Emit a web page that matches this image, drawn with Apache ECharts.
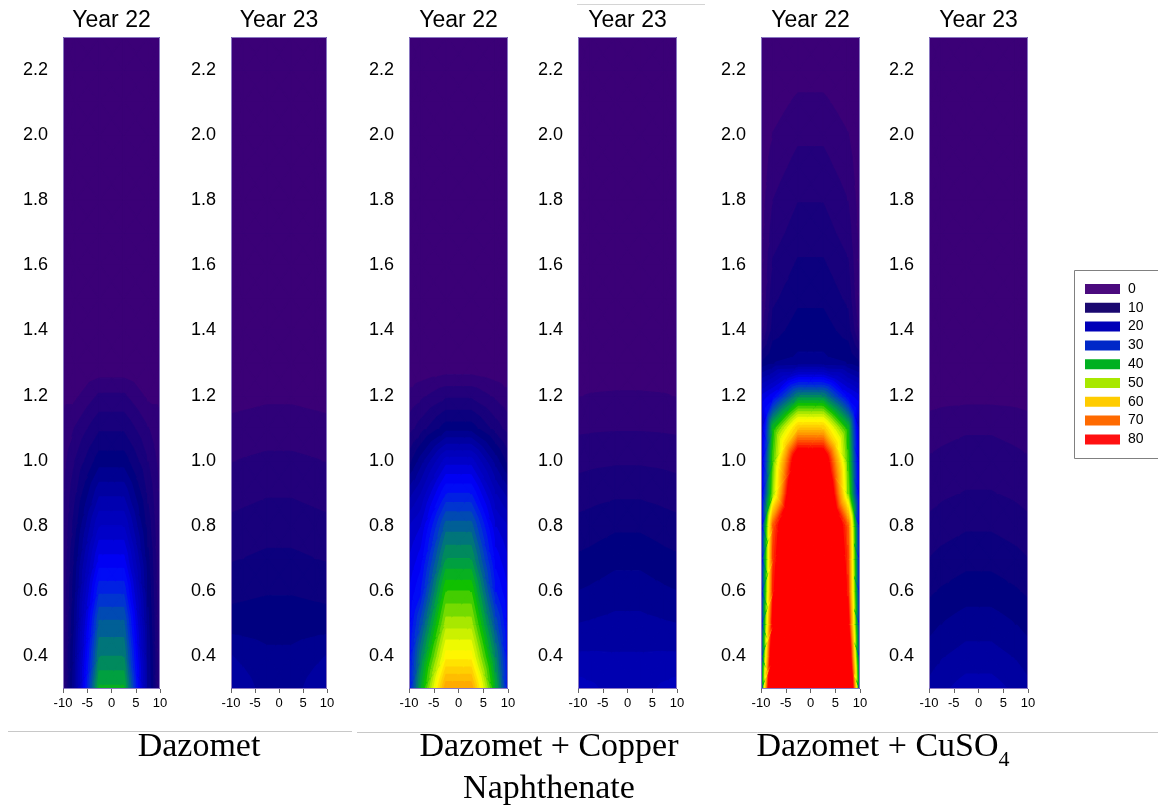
<!DOCTYPE html>
<html>
<head>
<meta charset="utf-8">
<script src="https://cdn.jsdelivr.net/npm/echarts@6/dist/echarts.min.js"></script>
<style>
  html, body { margin: 0; padding: 0; background: #ffffff; }
  #chart { width: 1158px; height: 808px; }
</style>
</head>
<body>
<div id="chart"></div>
<script>
// Sampling grid: horizontal distance from the pole centre (cm) and height (m)
const xNodes = [-10, -7.5, -2.5, 2.5, 7.5, 10];
const heightNodes = [0.3, 0.4, 0.5, 0.6, 0.7, 0.8, 0.9, 1.0, 1.1, 1.2, 1.3,
                     1.4, 1.5, 1.6, 1.7, 1.8, 1.9, 2.0, 2.1, 2.2, 2.3];

// Tick labels
const xTicks = [-10, -5, 0, 5, 10];
const yTicks = [0.4, 0.6, 0.8, 1.0, 1.2, 1.4, 1.6, 1.8, 2.0, 2.2];

// Residual level, one row per height (bottom to top), one value per x node
const dazometY22 = [
  [3.5, 14, 42.5, 42.5, 14, 3.5],
  [3.5, 13.5, 38, 38, 13.5, 3.5],
  [3.5, 12.5, 34.5, 34.5, 12.5, 3.5],
  [3.5, 11.5, 29.5, 29.5, 11.5, 3.5],
  [3.5, 10.5, 24.5, 24.5, 10.5, 3.5],
  [3.5, 9, 20, 20, 9, 3.5],
  [3.5, 7.5, 15.5, 15.5, 7.5, 3.5],
  [3, 6, 11, 11, 6, 3],
  [2.5, 4.1, 7.6, 7.6, 4.1, 2.5],
  [1.5, 1.5, 4.3, 4.3, 1.5, 1.5],
  [0, 0, 0, 0, 0, 0], [0, 0, 0, 0, 0, 0], [0, 0, 0, 0, 0, 0], [0, 0, 0, 0, 0, 0],
  [0, 0, 0, 0, 0, 0], [0, 0, 0, 0, 0, 0], [0, 0, 0, 0, 0, 0], [0, 0, 0, 0, 0, 0],
  [0, 0, 0, 0, 0, 0], [0, 0, 0, 0, 0, 0], [0, 0, 0, 0, 0, 0]
];
const dazometY23 = [
  [15.5, 15, 13, 13, 15, 15.5],
  [14.1, 13.5, 12.4, 12.4, 13.5, 14.1],
  [11, 11, 11.2, 11.2, 11, 11],
  [9.3, 9.5, 9.8, 9.8, 9.5, 9.3],
  [7.8, 8, 8.4, 8.4, 8, 7.8],
  [6.5, 6.7, 7.1, 7.1, 6.7, 6.5],
  [5.2, 5.4, 5.8, 5.8, 5.4, 5.2],
  [3.9, 4.1, 4.4, 4.4, 4.1, 3.9],
  [2.6, 2.8, 3.0, 3.0, 2.8, 2.6],
  [1.2, 1.3, 1.6, 1.6, 1.3, 1.2],
  [0, 0, 0, 0, 0, 0], [0, 0, 0, 0, 0, 0], [0, 0, 0, 0, 0, 0], [0, 0, 0, 0, 0, 0],
  [0, 0, 0, 0, 0, 0], [0, 0, 0, 0, 0, 0], [0, 0, 0, 0, 0, 0], [0, 0, 0, 0, 0, 0],
  [0, 0, 0, 0, 0, 0], [0, 0, 0, 0, 0, 0], [0, 0, 0, 0, 0, 0]
];
const cuNaphY22 = [
  [27, 42, 66, 66, 42, 27],
  [26, 38, 57, 57, 38, 26],
  [25, 33, 51, 51, 33, 25],
  [24, 28, 46, 46, 28, 24],
  [22, 25, 40, 40, 25, 22],
  [20, 22, 35, 35, 22, 20],
  [15, 18, 28, 28, 18, 15],
  [9, 13, 21, 21, 13, 9],
  [5, 7, 11, 11, 7, 5],
  [2.5, 3.5, 5.5, 5.5, 3.5, 2.5],
  [0, 0, 0, 0, 0, 0], [0, 0, 0, 0, 0, 0], [0, 0, 0, 0, 0, 0], [0, 0, 0, 0, 0, 0],
  [0, 0, 0, 0, 0, 0], [0, 0, 0, 0, 0, 0], [0, 0, 0, 0, 0, 0], [0, 0, 0, 0, 0, 0],
  [0, 0, 0, 0, 0, 0], [0, 0, 0, 0, 0, 0], [0, 0, 0, 0, 0, 0]
];
const cuNaphY23 = [
  [19, 18.5, 17, 17, 18.5, 19],
  [16.3, 16.3, 16.2, 16.2, 16.3, 16.3],
  [14, 14.2, 14.6, 14.6, 14.2, 14],
  [12, 12.3, 13, 13, 12.3, 12],
  [10.3, 10.6, 11.4, 11.4, 10.6, 10.3],
  [8.6, 8.9, 9.6, 9.6, 8.9, 8.6],
  [7, 7.2, 7.6, 7.6, 7.2, 7],
  [5.3, 5.5, 5.7, 5.7, 5.5, 5.3],
  [3.6, 3.7, 3.8, 3.8, 3.7, 3.6],
  [1.9, 2.1, 2.2, 2.2, 2.1, 1.9],
  [0.5, 0.6, 0.8, 0.8, 0.6, 0.5],
  [0, 0, 0, 0, 0, 0], [0, 0, 0, 0, 0, 0], [0, 0, 0, 0, 0, 0], [0, 0, 0, 0, 0, 0],
  [0, 0, 0, 0, 0, 0], [0, 0, 0, 0, 0, 0], [0, 0, 0, 0, 0, 0], [0, 0, 0, 0, 0, 0],
  [0, 0, 0, 0, 0, 0], [0, 0, 0, 0, 0, 0]
];
const cuso4Y22 = [
  [30, 110, 120, 120, 110, 30],
  [26, 94, 115, 115, 94, 26],
  [24, 83, 110, 110, 83, 24],
  [23, 77, 105, 105, 77, 23],
  [22, 75, 100, 100, 75, 22],
  [21, 72.5, 100, 100, 72.5, 21],
  [21, 50, 100, 100, 50, 21],
  [20, 47, 88, 88, 47, 20],
  [18, 44, 62, 62, 44, 18],
  [22, 25, 38, 38, 25, 22],
  [10, 12, 12.5, 12.5, 12, 10],
  [3, 9, 11, 11, 9, 3],
  [1, 7.5, 9.5, 9.5, 7.5, 1],
  [1, 6.3, 8.3, 8.3, 6.3, 1],
  [1, 5, 7, 7, 5, 1],
  [0.8, 4, 5.9, 5.9, 4, 0.8],
  [0.6, 3, 4.7, 4.7, 3, 0.6],
  [0.4, 2.1, 3.6, 3.6, 2.1, 0.4],
  [0.2, 1, 2.4, 2.4, 1, 0.2],
  [0, 0, 1, 1, 0, 0],
  [0, 0, 0, 0, 0, 0]
];
const cuso4Y23 = [
  [14.5, 15.5, 17, 17, 15.5, 14.5],
  [13, 13.8, 14.8, 14.8, 13.8, 13],
  [11.2, 12, 13, 13, 12, 11.2],
  [9.6, 10.2, 11, 11, 10.2, 9.6],
  [8, 8.6, 9.3, 9.3, 8.6, 8],
  [6.5, 7, 7.7, 7.7, 7, 6.5],
  [5.2, 5.6, 6.1, 6.1, 5.6, 5.2],
  [4.2, 4.5, 5, 5, 4.5, 4.2],
  [3.0, 3.3, 3.7, 3.7, 3.3, 3.0],
  [1.0, 1.2, 1.3, 1.3, 1.2, 1.0],
  [0, 0, 0, 0, 0, 0], [0, 0, 0, 0, 0, 0], [0, 0, 0, 0, 0, 0], [0, 0, 0, 0, 0, 0],
  [0, 0, 0, 0, 0, 0], [0, 0, 0, 0, 0, 0], [0, 0, 0, 0, 0, 0], [0, 0, 0, 0, 0, 0],
  [0, 0, 0, 0, 0, 0], [0, 0, 0, 0, 0, 0], [0, 0, 0, 0, 0, 0]
];

const panelData = [dazometY22, dazometY23, cuNaphY22, cuNaphY23, cuso4Y22, cuso4Y23];
const panelTitles = ['Year 22', 'Year 23', 'Year 22', 'Year 23', 'Year 22', 'Year 23'];

// Legend entries
const legendLevels = ['0', '10', '20', '30', '40', '50', '60', '70', '80'];
const legendColors = ['#4b0a7e', '#1a0870', '#0000b8', '#0028c8', '#00b020', '#a8e800', '#ffcc00', '#ff6a00', '#ff1010'];

// ---- layout ----
const panelLeft = [63, 231, 409, 578, 761, 929];
const panelWidth = [97, 96, 99, 99, 99, 99];
const panelTop = 37;
const panelHeight = 652;

// ---- colour scale used for the filled contour bands ----
const bandStep = 2;
const bandCount = 40; // last band is open-ended (>= 78)
const colorStops = [
  [0, '#3b0077'], [10, '#000080'], [16, '#0000b0'], [20, '#0000c8'], [25, '#0000ff'],
  [30, '#0035d0'], [35, '#006a88'], [40, '#00a040'], [44, '#10c000'], [50, '#a8e800'],
  [55, '#ffff00'], [60, '#ffd000'], [66, '#ff9800'], [72, '#ff5000'], [78, '#ff0000']
];
function hexToRgb(h) {
  return [parseInt(h.slice(1, 3), 16), parseInt(h.slice(3, 5), 16), parseInt(h.slice(5, 7), 16)];
}
function colorAt(v) {
  if (v <= colorStops[0][0]) return colorStops[0][1];
  for (let i = 1; i < colorStops.length; i++) {
    if (v <= colorStops[i][0]) {
      const [v0, c0] = colorStops[i - 1];
      const [v1, c1] = colorStops[i];
      const t = (v - v0) / (v1 - v0);
      const a = hexToRgb(c0), b = hexToRgb(c1);
      const m = a.map((x, k) => Math.round(x + (b[k] - x) * t));
      return 'rgb(' + m.join(',') + ')';
    }
  }
  return colorStops[colorStops.length - 1][1];
}
const bandColors = [];
for (let k = 0; k < bandCount; k++) bandColors.push(colorAt(k * bandStep));

// Clip a polygon (points carry [px, py, value]) to value >= level or value <= level
function clipPoly(poly, level, above) {
  const out = [];
  const n = poly.length;
  for (let i = 0; i < n; i++) {
    const P = poly[i], Q = poly[(i + 1) % n];
    const pin = above ? P[2] >= level : P[2] <= level;
    const qin = above ? Q[2] >= level : Q[2] <= level;
    if (pin) out.push(P);
    if (pin !== qin) {
      const t = (level - P[2]) / (Q[2] - P[2]);
      out.push([P[0] + t * (Q[0] - P[0]), P[1] + t * (Q[1] - P[1]), level]);
    }
  }
  return out;
}

// Each grid cell is split into four triangles around its centre, and each
// triangle is cut into the colour bands it spans (linear interpolation).
function renderCell(params, api) {
  const x0 = api.value(0), x1 = api.value(1), y0 = api.value(2), y1 = api.value(3);
  const vBL = api.value(4), vBR = api.value(5), vTL = api.value(6), vTR = api.value(7);
  const pBL = api.coord([x0, y0]), pBR = api.coord([x1, y0]);
  const pTL = api.coord([x0, y1]), pTR = api.coord([x1, y1]);
  const pC = api.coord([(x0 + x1) / 2, (y0 + y1) / 2]);
  const BL = [pBL[0], pBL[1], vBL], BR = [pBR[0], pBR[1], vBR];
  const TL = [pTL[0], pTL[1], vTL], TR = [pTR[0], pTR[1], vTR];
  const C = [pC[0], pC[1], (vBL + vBR + vTL + vTR) / 4];
  const tris = [[BL, BR, C], [BR, TR, C], [TR, TL, C], [TL, BL, C]];
  const children = [];
  tris.forEach(tri => {
    const vals = tri.map(p => p[2]);
    const vmin = Math.min.apply(null, vals), vmax = Math.max.apply(null, vals);
    const kLo = Math.max(0, Math.min(bandCount - 1, Math.floor(vmin / bandStep)));
    const kHi = Math.max(0, Math.min(bandCount - 1, Math.floor(vmax / bandStep)));
    for (let k = kLo; k <= kHi; k++) {
      let poly = tri;
      if (k > 0) poly = clipPoly(poly, k * bandStep, true);
      if (poly.length >= 3 && k < bandCount - 1) poly = clipPoly(poly, (k + 1) * bandStep, false);
      if (poly.length < 3) continue;
      const col = bandColors[k];
      children.push({
        type: 'polygon',
        shape: { points: poly.map(p => [p[0], p[1]]) },
        style: { fill: col, stroke: col, lineWidth: 1.4, lineJoin: 'round' },
        silent: true
      });
    }
  });
  return { type: 'group', children: children };
}

function cellsOf(values) {
  const cells = [];
  for (let j = 0; j < heightNodes.length - 1; j++) {
    for (let i = 0; i < xNodes.length - 1; i++) {
      cells.push([xNodes[i], xNodes[i + 1], heightNodes[j], heightNodes[j + 1],
                  values[j][i], values[j][i + 1], values[j + 1][i], values[j + 1][i + 1]]);
    }
  }
  return cells;
}

const sansFont = '"Liberation Sans", Arial, sans-serif';
const serifFont = '"Liberation Serif", "Times New Roman", serif';

const grids = [], xAxes = [], yAxes = [], series = [], graphics = [];
panelData.forEach((values, k) => {
  grids.push({ left: panelLeft[k], top: panelTop, width: panelWidth[k], height: panelHeight, containLabel: false });
  xAxes.push({
    gridIndex: k, type: 'value', min: -10, max: 10,
    axisLine: { show: false }, splitLine: { show: false },
    axisTick: { show: true, length: 4, customValues: xTicks, lineStyle: { color: '#666666', width: 1 } },
    axisLabel: { customValues: xTicks, fontSize: 13, margin: 8, color: '#000000', fontFamily: sansFont }
  });
  yAxes.push({
    gridIndex: k, type: 'value', min: 0.3, max: 2.3,
    axisLine: { show: false }, splitLine: { show: false },
    axisTick: { show: true, length: 5, customValues: yTicks, lineStyle: { color: '#555555', width: 1 } },
    axisLabel: {
      customValues: yTicks, fontSize: 18, margin: 15, color: '#000000', fontFamily: sansFont,
      formatter: v => Number(v).toFixed(1)
    }
  });
  series.push({
    type: 'custom', xAxisIndex: k, yAxisIndex: k, coordinateSystem: 'cartesian2d',
    renderItem: renderCell, data: cellsOf(values), clip: true, silent: true,
    encode: { x: [0, 1], y: [2, 3] }, animation: false
  });
  // thin frame round each panel
  graphics.push({
    type: 'rect', z: 100, silent: true,
    shape: { x: panelLeft[k] + 0.5, y: panelTop + 0.5, width: panelWidth[k] - 1, height: panelHeight - 1 },
    style: { fill: 'none', stroke: '#8a78c2', lineWidth: 1 }
  });
  graphics.push({
    type: 'text', z: 100, silent: true,
    x: panelLeft[k] + panelWidth[k] / 2, y: 21,
    style: { text: panelTitles[k], font: '23px ' + sansFont, fill: '#000000', align: 'center', verticalAlign: 'middle' }
  });
});

// Treatment captions
const captionFontSize = 34;
graphics.push({ type: 'text', silent: true, x: 199, y: 747,
  style: { text: 'Dazomet', font: captionFontSize + 'px ' + serifFont, fill: '#000', align: 'center', verticalAlign: 'middle' } });
graphics.push({ type: 'text', silent: true, x: 549, y: 747,
  style: { text: 'Dazomet + Copper', font: captionFontSize + 'px ' + serifFont, fill: '#000', align: 'center', verticalAlign: 'middle' } });
graphics.push({ type: 'text', silent: true, x: 549, y: 789,
  style: { text: 'Naphthenate', font: captionFontSize + 'px ' + serifFont, fill: '#000', align: 'center', verticalAlign: 'middle' } });
(function () {
  const ctx = document.createElement('canvas').getContext('2d');
  ctx.font = captionFontSize + 'px ' + serifFont;
  const wMain = ctx.measureText('Dazomet + CuSO').width;
  ctx.font = '22px ' + serifFont;
  const wSub = ctx.measureText('4').width;
  const startX = 883 - (wMain + wSub) / 2;
  graphics.push({ type: 'text', silent: true, x: startX, y: 747,
    style: { text: 'Dazomet + CuSO', font: captionFontSize + 'px ' + serifFont, fill: '#000', align: 'left', verticalAlign: 'middle' } });
  graphics.push({ type: 'text', silent: true, x: startX + wMain, y: 760,
    style: { text: '4', font: '22px ' + serifFont, fill: '#000', align: 'left', verticalAlign: 'middle' } });
})();

// Faint rule lines above the captions
graphics.push({ type: 'line', silent: true, shape: { x1: 8, y1: 731.5, x2: 352, y2: 731.5 }, style: { stroke: '#c8c8c8', lineWidth: 1 } });
graphics.push({ type: 'line', silent: true, shape: { x1: 357, y1: 732.5, x2: 1158, y2: 732.5 }, style: { stroke: '#c8c8c8', lineWidth: 1 } });
graphics.push({ type: 'line', silent: true, shape: { x1: 577, y1: 4.5, x2: 705, y2: 4.5 }, style: { stroke: '#d4d4d4', lineWidth: 1 } });

// Legend box
const legendChildren = [{
  type: 'rect', shape: { x: 0.5, y: 0.5, width: 100, height: 188 },
  style: { fill: '#ffffff', stroke: '#808080', lineWidth: 1 }
}];
legendLevels.forEach((lab, i) => {
  const cy = 19 + i * 18.8;
  legendChildren.push({ type: 'rect', shape: { x: 11, y: cy - 5, width: 35, height: 10 }, style: { fill: legendColors[i] } });
  legendChildren.push({ type: 'text', x: 54, y: cy, style: { text: lab, font: '14px ' + sansFont, fill: '#000', align: 'left', verticalAlign: 'middle' } });
});
graphics.push({ type: 'group', x: 1074, y: 270, silent: true, children: legendChildren });

const chart = echarts.init(document.getElementById('chart'), null, { renderer: 'canvas' });
chart.setOption({
  animation: false,
  backgroundColor: '#ffffff',
  grid: grids,
  xAxis: xAxes,
  yAxis: yAxes,
  series: series,
  graphic: graphics
});
</script>
</body>
</html>
